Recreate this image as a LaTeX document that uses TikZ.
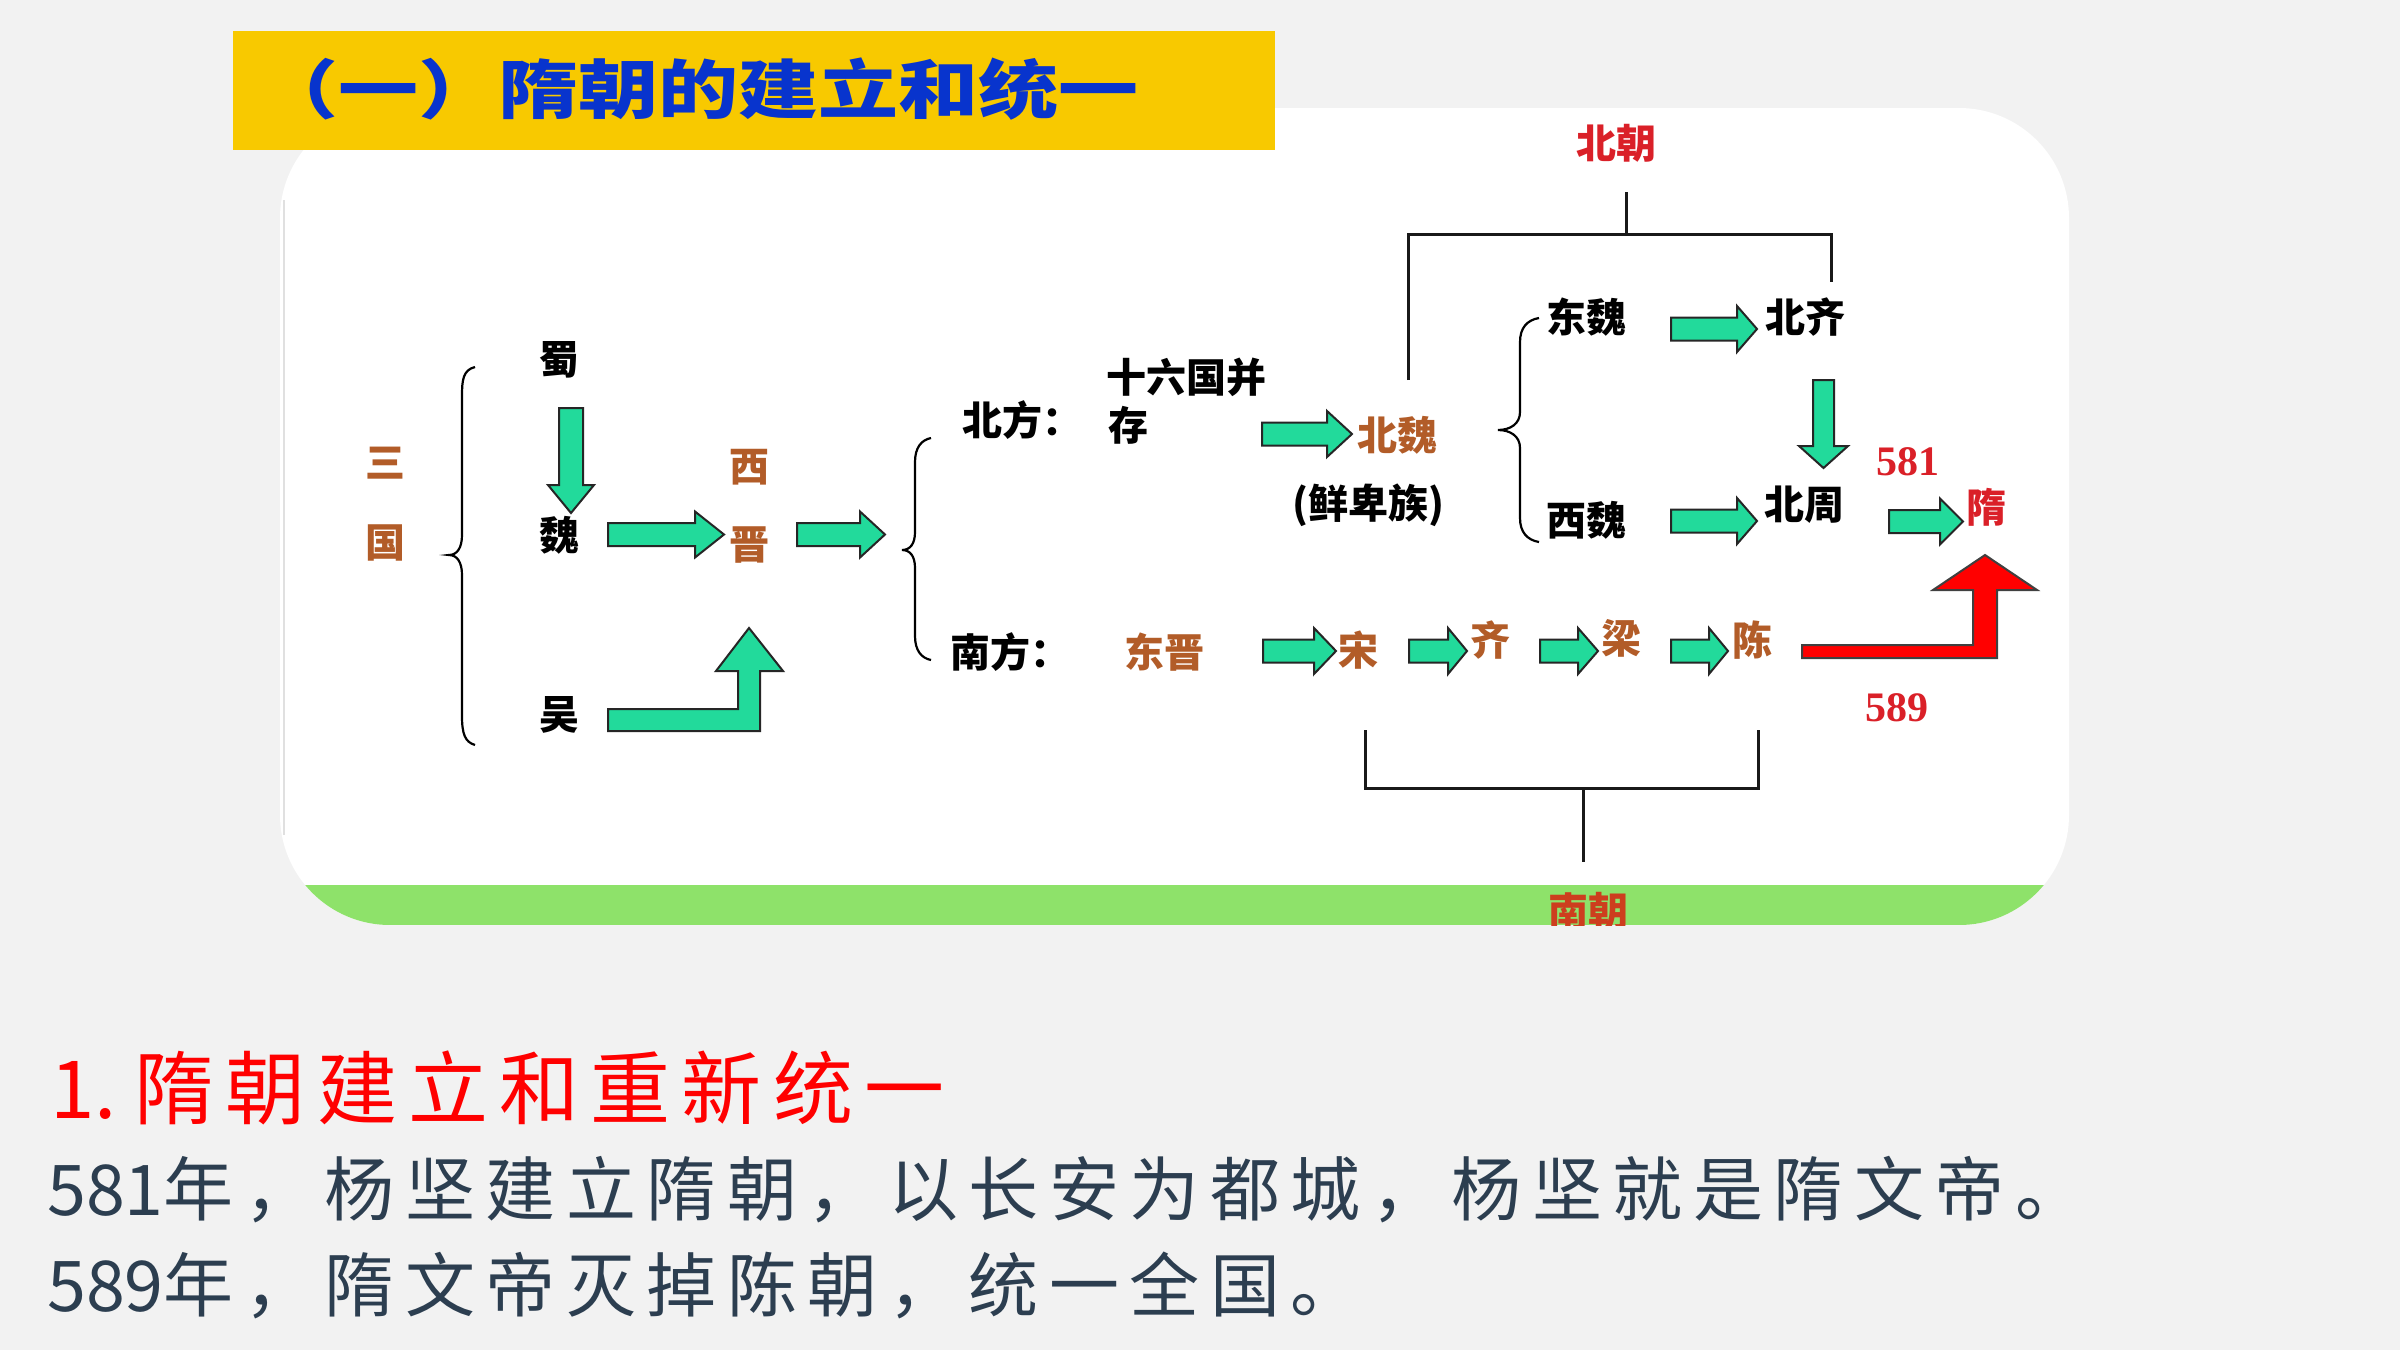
\documentclass[tikz,border=0pt]{standalone}
\usepackage{fontspec}
\newfontfamily\cjk{Noto Sans CJK SC}
\newfontfamily\serifb{Liberation Serif}
\definecolor{bgc}{RGB}{242,242,242}
\definecolor{yel}{RGB}{248,201,0}
\definecolor{titleblue}{RGB}{8,52,205}
\definecolor{brownc}{RGB}{178,92,40}
\definecolor{redc}{RGB}{218,32,40}
\definecolor{nanred}{RGB}{205,62,30}
\definecolor{darktext}{RGB}{44,62,80}
\definecolor{arrgreen}{RGB}{34,218,155}
\definecolor{bandgreen}{RGB}{142,226,106}
\tikzset{
  garrow/.style={fill=arrgreen, draw=black!85, line width=2pt, line join=miter},
  rarrow/.style={fill=red, draw=black!75, line width=2pt, line join=miter},
  lbl/.style={font=\cjk\bfseries\fontsize{40}{44}\selectfont, inner sep=0pt, text=black},
  brn/.style={lbl, text=brownc},
  rlbl/.style={lbl, text=redc},
  num/.style={font=\serifb\bfseries\fontsize{42}{46}\selectfont, inner sep=0pt, text=redc},
  bracepath/.style={draw=black, line width=2.2pt},
  bracket/.style={draw=black!90, line width=3pt},
}
% horizontal block arrow: x1, x2 (tip), yc, head length
\newcommand\myHA[4]{\draw[garrow] (#1,#3-11.5) -- (#2-#4,#3-11.5) -- (#2-#4,#3-23) -- (#2,#3) -- (#2-#4,#3+23) -- (#2-#4,#3+11.5) -- (#1,#3+11.5) -- cycle;}
% vertical down block arrow: xc, ytop, ytip, head length, shaft half, head half
\newcommand\myVA[6]{\draw[garrow] (#1-#5,#2) -- (#1+#5,#2) -- (#1+#5,#3-#4) -- (#1+#6,#3-#4) -- (#1,#3) -- (#1-#6,#3-#4) -- (#1-#5,#3-#4) -- cycle;}
\begin{document}
\begin{tikzpicture}[x=1pt,y=-1pt]
\useasboundingbox (0,0) rectangle (2400,1350);
\fill[bgc] (0,0) rectangle (2400,1350);
% panel
\fill[white, rounded corners=110] (280,108) rectangle (2069,925);
\draw[black!12, line width=1.5pt] (284,200) -- (284,835);
\begin{scope}
  \clip[rounded corners=110] (280,108) rectangle (2069,925);
  \fill[bandgreen] (280,885) rectangle (2069,925);
  \node[lbl, text=nanred] (nanchao) at (1588,911) {南朝};
\end{scope}
% title bar
\fill[yel] (233,31) rectangle (1275,150);
\node[anchor=west, inner sep=0pt, text=titleblue, font=\cjk\bfseries\fontsize{64}{70}\selectfont] (title) at (258,89) {\scalebox{1.25}[1]{（一）隋朝的建立和统一}};

% ---- left part
\node[brn] (san) at (385,463) {三};
\node[brn] (guo) at (385,543) {国};
\draw[bracepath] (475,367) .. controls (463,370) and (462,380) .. (462,396) -- (462,535) .. controls (462,548) and (457,555) .. (449,555) .. controls (457,555) and (462,562) .. (462,575) -- (462,716) .. controls (462,734) and (465,742) .. (475,745);
\node[lbl] (shu) at (559,360) {蜀};
\node[lbl] (wei) at (559,535) {魏};
\node[lbl] (wu) at (559,715) {吴};
\node[brn] (xi) at (749,467) {西};
\node[brn] (jin) at (749,545) {晋};
\myVA{571}{408}{513}{28}{12}{23}
\myHA{608}{724}{534.5}{29}
\draw[garrow] (608,709) -- (738,709) -- (738,671) -- (716,671) -- (749,628) -- (783,671) -- (760,671) -- (760,731) -- (608,731) -- cycle;
\myHA{797}{885}{534.5}{25}
% second brace
\draw[bracepath] (931,438) .. controls (921,440) and (915,448) .. (915,462) -- (915,532) .. controls (915,544) and (910,550) .. (902,550) .. controls (910,550) and (915,556) .. (915,568) -- (915,636) .. controls (915,650) and (921,658) .. (931,660);
\node[lbl, anchor=west] (beifang) at (962,420) {北方：};
\node[lbl, anchor=west] (shiliu) at (1106,377) {十六国并};
\node[lbl, anchor=west] (cun) at (1108,425) {存};
\node[lbl, anchor=west] (nanfang) at (950,652) {南方：};
\node[brn] (dongjin) at (1164,652) {东晋};

% ---- north
\myHA{1262}{1352}{434}{25}
\node[brn] (beiwei) at (1397,435) {北魏};
\node[lbl] (xianbei) at (1368,505) {(鲜卑族)};
\draw[bracepath] (1539,318) .. controls (1527,320) and (1520,328) .. (1520,342) -- (1520,412) .. controls (1520,424) and (1510,430) .. (1498,430) .. controls (1510,430) and (1520,436) .. (1520,448) -- (1520,518) .. controls (1520,532) and (1527,540) .. (1539,542);
\node[lbl] (dongwei) at (1586,317) {东魏};
\node[lbl] (beiqi) at (1805,317) {北齐};
\node[lbl] (xiwei) at (1586,520) {西魏};
\node[lbl] (beizhou) at (1804,505) {北周};
\node[rlbl] (sui) at (1986,507) {隋};
\node[num] (n581) at (1908,462) {581};
\node[num] (n589) at (1897,708) {589};
\myHA{1671}{1757}{329}{20}
\myHA{1671}{1757}{521}{20}
\myVA{1823.5}{380}{468}{22}{10.5}{24.5}
\myHA{1889}{1963}{521.5}{23}
% top bracket
\node[rlbl] (beichao) at (1616,143) {北朝};
\coordinate (tb) at (1626,192);
\coordinate (tm) at (1626,234);
\draw[bracket] (1408,380) -- (1408,234) -- (1831,234) -- (1831,282);
\draw[bracket] (tb) -- (tm);

% ---- south
\node[brn] (song) at (1358,650) {宋};
\node[brn] (qi) at (1490,640) {齐};
\node[brn] (liang) at (1621,638) {梁};
\node[brn] (chen) at (1752,640) {陈};
\myHA{1263}{1336}{651}{22}
\myHA{1409}{1467}{651}{19}
\myHA{1540}{1598}{651}{20}
\myHA{1671}{1728}{651}{19}
\draw[rarrow] (1802,645) -- (1973,645) -- (1973,590) -- (1933,590) -- (1985,555) -- (2037,590) -- (1997,590) -- (1997,658) -- (1802,658) -- cycle;
% bottom bracket
\coordinate (bb) at (1583,862);
\coordinate (bm) at (1583,788);
\draw[bracket] (1365,730) -- (1365,788) -- (1758,788) -- (1758,730);
\draw[bracket] (bm) -- (bb);

% ---- text below
\node[anchor=west, inner sep=0pt, text=red, font=\cjk\fontsize{80}{88}\selectfont] (h1) at (50,1088) {1.\ \addfontfeature{LetterSpace=14}隋朝建立和重新统一};
\node[anchor=west, inner sep=0pt, text=darktext, font=\cjk\fontsize{70}{78}\selectfont] (l2) at (47,1190) {581\addfontfeature{LetterSpace=15}年，杨坚建立隋朝，以长安为都城，杨坚就是隋文帝。};
\node[anchor=west, inner sep=0pt, text=darktext, font=\cjk\fontsize{70}{78}\selectfont] (l3) at (47,1285) {589\addfontfeature{LetterSpace=15}年，隋文帝灭掉陈朝，统一全国。};
\end{tikzpicture}
\end{document}
